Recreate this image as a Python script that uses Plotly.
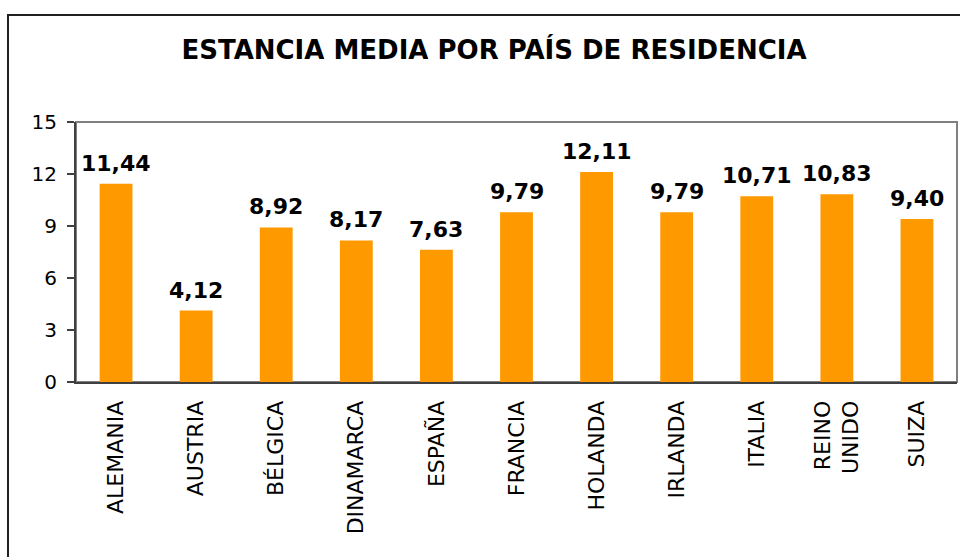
import plotly.graph_objects as go

categories = ["ALEMANIA", "AUSTRIA", "BÉLGICA", "DINAMARCA", "ESPAÑA", "FRANCIA",
              "HOLANDA", "IRLANDA", "ITALIA", "REINO<br>UNIDO", "SUIZA"]
values = [11.44, 4.12, 8.92, 8.17, 7.63, 9.79, 12.11, 9.79, 10.71, 10.83, 9.40]
y_ticks = [0, 3, 6, 9, 12, 15]
title = "ESTANCIA MEDIA POR PAÍS DE RESIDENCIA"

labels = [f"{v:.2f}".replace(".", ",") for v in values]

W, H = 960, 557
L, R, T, B = 76, 3, 122, 175
pw, ph = W - L - R, H - T - B

def px_x(x):
    return (x - L) / pw

def px_y(y):
    return (H - B - y) / ph

fig = go.Figure(go.Bar(
    x=categories, y=values,
    marker=dict(color="#FF9900", line=dict(width=0)),
    cliponaxis=False,
))

annotations = [
    dict(x=c, y=v, text=f"<b>{t}</b>", showarrow=False, xref="x", yref="y",
         yanchor="bottom", yshift=6,
         font=dict(family="DejaVu Sans", size=22, color="black"))
    for c, v, t in zip(categories, values, labels)
]

fig.update_layout(
    width=W, height=H,
    margin=dict(l=L, r=R, t=T, b=B),
    paper_bgcolor="white", plot_bgcolor="white",
    bargap=0.59,
    showlegend=False,
    annotations=annotations,
    title=dict(text=f"<b>{title}</b>", x=494 / W, xanchor="center",
               y=1 - 50 / H, yanchor="middle",
               font=dict(family="DejaVu Sans", size=26, color="black")),
    font=dict(family="DejaVu Sans", color="black"),
    xaxis=dict(tickangle=-90, showgrid=False, showline=True, linecolor="#404040", linewidth=2,
               ticks="", tickfont=dict(size=22, family="DejaVu Sans"), ticklabelstandoff=8),
    yaxis=dict(range=[0, 15], tickvals=y_ticks, showgrid=False, showline=True,
               linecolor="#404040", linewidth=2, ticks="outside", ticklen=7, tickcolor="#404040",
               tickwidth=1.5, tickfont=dict(size=20, family="DejaVu Sans"), zeroline=False,
               ticklabelstandoff=6),
    shapes=[
        dict(type="rect", xref="paper", yref="paper", x0=0, x1=1, y0=0, y1=1,
             line=dict(color="#808080", width=2), layer="below"),
        dict(type="rect", xref="paper", yref="paper",
             x0=px_x(8), x1=px_x(980), y0=px_y(15), y1=px_y(580),
             line=dict(color="#202020", width=2)),
    ],
)

fig.write_html("out.html")
